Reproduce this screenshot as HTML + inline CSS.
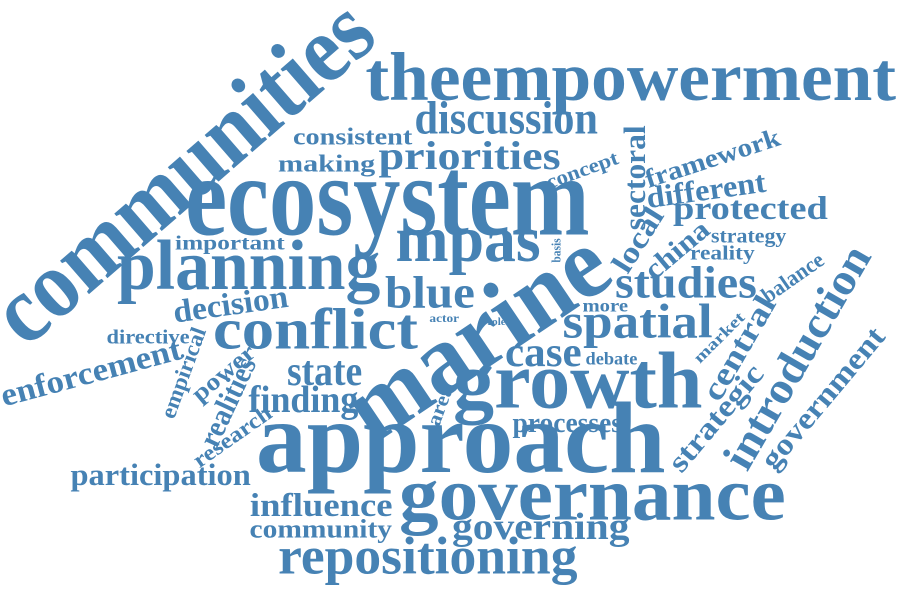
<!DOCTYPE html>
<html><head><meta charset="utf-8"><style>
html,body{margin:0;padding:0;background:#fff;}
#c{position:relative;width:900px;height:589px;overflow:hidden;}
.w{position:absolute;white-space:nowrap;font-family:"Liberation Serif",serif;font-weight:bold;color:#4682B4;line-height:1;transform-origin:50% 50%;}
</style></head><body><div id="c"></div>
<script>
var W=[
["communities",182,170,470,95,-41],
["theempowerment",630,77,530,68,0],
["discussion",506,119,183,46,0],
["consistent",352,137,119,24,0],
["making",326,164,97,24,0],
["priorities",469,156,182,40,0],
["ecosystem",387,197,405,112,0],
["concept",582,170,75,20,-20],
["sectoral",635,178,105,30,-90],
["framework",713,160,140,26,-18],
["different",706,190,120,30,-8],
["protected",750,209,155,32,0],
["strategy",748,236,75,20,0],
["reality",722,253,65,20,0],
["china",677,250,75,28,-40],
["local",637,240,70,30,-58],
["basis",557,250,24,12,-90],
["mpas",468,240,145,65,0],
["planning",248,266,263,70,0],
["important",230,243,110,20,0],
["blue",430,292,90,45,0],
["marine",475,335,295,100,-34],
["studies",686,282,142,45,0],
["more",605,306,45,18,0],
["actor",444,320,29,11,0],
["role",496,322,18,10,0],
["spatial",637,322,150,48,0],
["balance",793,278,70,22,-35],
["central",740,348,115,32,-60],
["market",720,338,65,16,-45],
["introduction",797,357,250,44,-60],
["government",822,398,175,30,-50],
["strategic",715,418,130,30,-50],
["conflict",315,329,205,58,0],
["decision",230,305,115,32,-8],
["directive",148,337,83,20,0],
["enforcement",91,373,185,32,-15],
["empirical",184,373,95,22,-70],
["power",223,373,75,24,-40],
["realities",227,402,95,30,-65],
["research",232,437,90,22,-35],
["state",324,372,75,42,0],
["finding",303,400,110,38,0],
["participation",160,475,180,30,0],
["area",440,405,42,20,-70],
["case",543,353,77,42,0],
["debate",611,359,52,18,0],
["growth",578,381,250,80,0],
["processes",567,423,110,28,0],
["approach",461,438,410,100,0],
["governance",592,494,387,74,0],
["influence",321,506,142,32,0],
["community",321,531,143,26,0],
["governing",541,527,178,38,0],
["repositioning",428,557,300,52,0]
];
var c=document.getElementById('c');
W.forEach(function(a){
 var s=document.createElement('div');s.className='w';s.textContent=a[0];
 s.style.fontSize=(a[4]*0.92)+'px';c.appendChild(s);
 var w=s.offsetWidth,h=s.offsetHeight;
 var sx=a[3]/w;
 s.style.left=(a[1]-w/2)+'px';s.style.top=(a[2]-h/2)+'px';
 s.style.transform='rotate('+a[5]+'deg) scale('+sx.toFixed(3)+',1.1)';
});
</script></body></html>
